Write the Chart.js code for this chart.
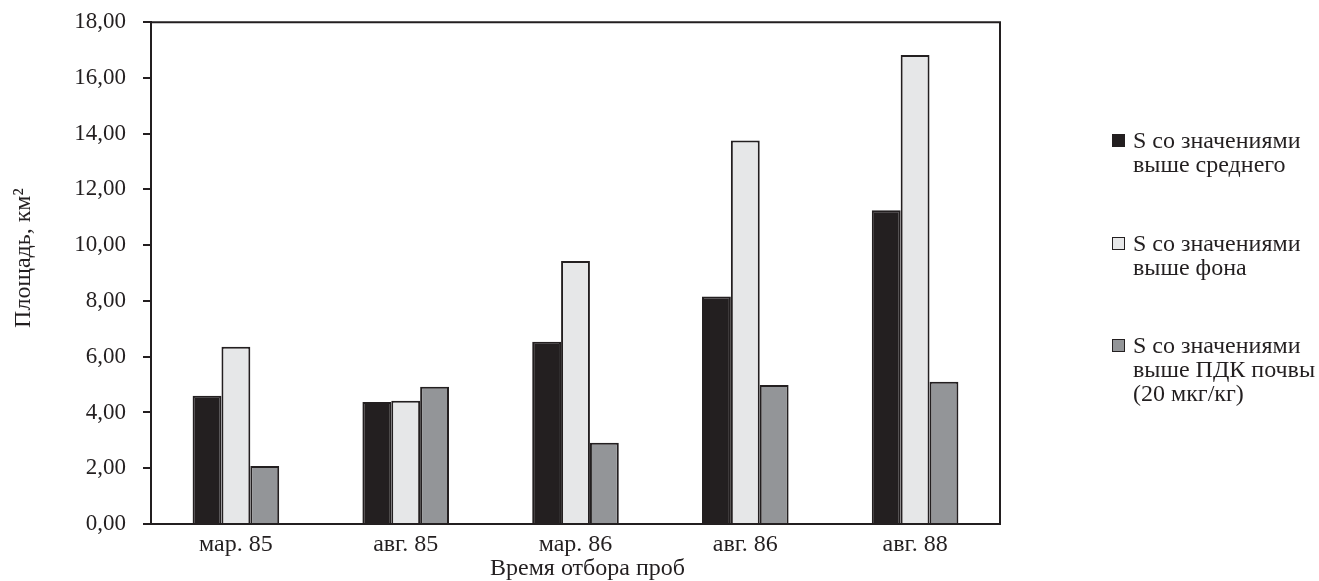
<!DOCTYPE html>
<html>
<head>
<meta charset="utf-8">
<script src="https://cdn.jsdelivr.net/npm/chart.js@4/dist/chart.umd.min.js"></script>
<style>
  html, body { margin: 0; padding: 0; background: #fff; }
  #wrap { position: relative; width: 1319px; height: 581px; }
  #legend { position: absolute; left: 1112px; top: 128px; font-family: "Liberation Serif", serif; font-size: 24px; color: #231f20; line-height: 24px; }
  #legend .item { position: relative; padding-left: 21px; margin-bottom: 54.5px; white-space: nowrap; }
  #legend .box { position: absolute; left: 0; top: 6px; width: 11px; height: 11px; border: 1px solid #231f20; }
</style>
</head>
<body>
<div id="wrap">
  <canvas id="chart" width="1319" height="581"></canvas>
  <div id="legend"></div>
</div>
<script>
var categories = ['мар. 85', 'авг. 85', 'мар. 86', 'авг. 86', 'авг. 88'];
var seriesNames = [
  'S со значениями\nвыше среднего',
  'S со значениями\nвыше фона',
  'S со значениями\nвыше ПДК почвы\n(20 мкг/кг)'
];
var aboveMean = [4.60, 4.38, 6.54, 8.16, 11.25];
var aboveBackground = [6.36, 4.42, 9.43, 13.76, 16.82];
var abovePdk = [2.08, 4.92, 2.91, 4.99, 5.10];
var seriesColors = ['#231f20', '#e6e7e8', '#939598'];
var yTicks = [0, 2, 4, 6, 8, 10, 12, 14, 16, 18];

var ink = '#231f20';
var fontFamily = '"Liberation Serif", "Times New Roman", serif';

// top and right frame lines of the plot area
var framePlugin = {
  id: 'frame',
  afterDraw: function(chart) {
    var a = chart.chartArea, ctx = chart.ctx;
    ctx.save();
    ctx.strokeStyle = ink;
    ctx.lineWidth = 2;
    ctx.beginPath();
    ctx.moveTo(a.left, a.top);
    ctx.lineTo(a.right, a.top);
    ctx.lineTo(a.right, a.bottom);
    ctx.stroke();
    ctx.restore();
  }
};

var seriesData = [aboveMean, aboveBackground, abovePdk];
var datasets = seriesData.map(function(d, i) {
  return {
    label: seriesNames[i],
    data: d,
    backgroundColor: seriesColors[i],
    borderColor: ink,
    borderWidth: 2,
    borderSkipped: 'bottom',
    categoryPercentage: 0.51,
    barPercentage: 1.0
  };
});

var ctx = document.getElementById('chart').getContext('2d');
var chart = new Chart(ctx, {
  type: 'bar',
  data: { labels: categories, datasets: datasets },
  plugins: [framePlugin],
  options: {
    responsive: false,
    animation: false,
    layout: { padding: { top: 8, right: 319, left: 12, bottom: 0 } },
    plugins: {
      legend: { display: false },
      tooltip: { enabled: false }
    },
    scales: {
      x: {
        grid: { drawOnChartArea: false, drawTicks: false },
        border: { color: ink, width: 2 },
        ticks: { color: ink, padding: 6, font: { family: fontFamily, size: 24, lineHeight: 1.2 } },
        title: {
          display: true,
          // leading spaces nudge the title a bit right, as in the source
          text: '    Время отбора проб',
          color: ink,
          padding: 0,
          font: { family: fontFamily, size: 24, lineHeight: 1 }
        },
        afterFit: function(scale) { scale.height = 57; }
      },
      y: {
        min: 0,
        max: 18,
        afterBuildTicks: function(scale) {
          scale.ticks = yTicks.map(function(v) { return { value: v }; });
        },
        grid: { drawOnChartArea: false, drawTicks: true, tickLength: 8, color: ink, lineWidth: 2 },
        border: { color: ink, width: 2 },
        ticks: {
          color: ink,
          padding: 17,
          font: { family: fontFamily, size: 23, lineHeight: 0.45 },
          callback: function(v) { return Number(v).toFixed(2).replace('.', ','); }
        },
        title: {
          display: true,
          // leading spaces lift the rotated title slightly
          text: '     Площадь, км²',
          color: ink,
          padding: 0,
          font: { family: fontFamily, size: 24, lineHeight: 1 }
        },
        afterFit: function(scale) { scale.width = 139; }
      }
    }
  }
});

// html legend built from the datasets
var legendEl = document.getElementById('legend');
chart.data.datasets.forEach(function(ds) {
  var item = document.createElement('div');
  item.className = 'item';
  var box = document.createElement('span');
  box.className = 'box';
  box.style.background = ds.backgroundColor;
  item.appendChild(box);
  ds.label.split('\n').forEach(function(line) {
    var l = document.createElement('div');
    l.textContent = line;
    item.appendChild(l);
  });
  legendEl.appendChild(item);
});
</script>
</body>
</html>
